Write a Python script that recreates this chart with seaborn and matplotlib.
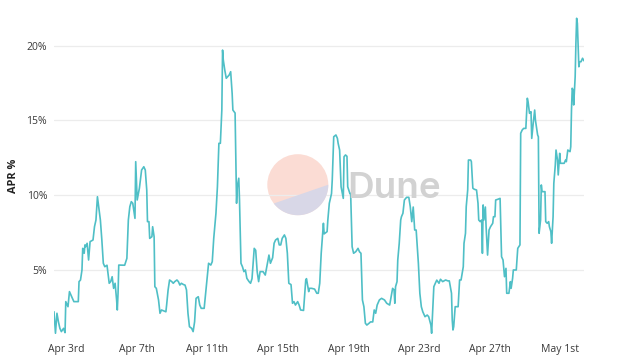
import numpy as np
import pandas as pd
import matplotlib
matplotlib.use("Agg")
import matplotlib.pyplot as plt
import matplotlib.patches as mpatches
from matplotlib.transforms import IdentityTransform
import seaborn as sns

# ---- data (hours offset from 2023-04-03 00:00, APR %) ----
hours = [
    -16, -14, -12, -10, -8, -6, -3, -1, 0, 3, 5, 7, 9, 11, 17, 18, 20, 22, 23, 25,
    26, 27, 29, 31, 33, 37, 39, 41, 43, 45, 47, 49, 51, 53, 56, 59, 61, 63, 65, 67,
    69, 70, 71, 72, 80, 83, 85, 87, 89, 91, 94, 95, 97, 100, 103, 106, 108, 110, 111, 113,
    114, 117, 118, 120, 121, 123, 126, 128, 130, 136, 137, 139, 141, 144, 146, 148, 151, 153, 155, 157,
    160, 162, 164, 166, 168, 171, 173, 175, 177, 180, 182, 184, 188, 190, 192, 194, 197, 199, 201, 204,
    206, 208, 210, 212, 213, 214, 216, 218, 222, 224, 226, 227, 230, 232, 233, 235, 236, 238, 240, 242,
    244, 246, 249, 251, 253, 256, 258, 260, 262, 264, 268, 271, 274, 276, 278, 281, 283, 285, 288, 290,
    292, 294, 297, 299, 301, 303, 306, 308, 310, 312, 315, 317, 319, 323, 326, 327, 330, 331, 334, 338,
    341, 343, 345, 347, 350, 351, 355, 356, 358, 360, 361, 362, 363, 364, 367, 369, 370, 372, 374, 377,
    378, 380, 382, 383, 386, 387, 389, 391, 394, 397, 399, 401, 403, 405, 407, 409, 412, 414, 417, 419,
    421, 423, 426, 429, 433, 436, 440, 442, 444, 446, 447, 448, 450, 451, 453, 455, 456, 458, 460, 463,
    466, 468, 470, 472, 474, 476, 479, 481, 483, 485, 488, 491, 493, 496, 497, 500, 502, 504, 507, 509,
    512, 516, 519, 521, 524, 525, 526, 527, 529, 533, 535, 537, 540, 541, 543, 544, 546, 547, 550, 551,
    553, 555, 558, 560, 561, 563, 565, 566, 567, 568, 570, 571, 573, 575, 577, 580, 581, 583, 584, 587,
    590, 592, 594, 596, 598, 599, 602, 604, 605, 607, 608, 612, 614, 617, 618, 620, 622, 625, 627, 628,
    630, 632, 633, 635, 637, 638, 641, 642, 643, 645, 646, 647, 649, 651, 652, 654, 656, 657, 659, 660,
    662, 663, 665, 666, 668, 669, 671, 672, 675, 677, 679, 680, 682, 685, 686, 687, 688, 689, 690, 692,
    693, 694, 695, 697, 698, 700, 702, 704,
]
apr = [
    2.18, 0.74, 2.08, 1.51, 1.07, 0.85, 1.07, 0.78, 2.86, 2.52, 3.53, 3.30, 3.08, 2.86, 2.86, 4.20, 4.31, 4.98, 6.43, 6.10,
    6.66, 6.54, 6.77, 5.65, 6.88, 6.99, 7.88, 8.33, 9.89, 9.11, 8.33, 6.99, 5.43, 5.20, 5.30, 4.09, 4.20, 4.53, 3.75, 4.09,
    3.00, 2.30, 3.42, 5.31, 5.30, 5.76, 8.33, 9.22, 9.56, 9.45, 8.44, 12.24, 9.67, 10.46, 11.68, 11.90, 11.68, 10.34, 8.22, 8.22,
    7.10, 7.21, 7.88, 7.21, 3.86, 3.75, 2.97, 2.08, 2.30, 2.18, 2.63, 3.64, 4.31, 4.20, 4.09, 4.20, 4.31, 4.20, 3.97, 4.09,
    4.00, 3.97, 3.64, 2.08, 1.18, 1.07, 0.85, 1.51, 3.08, 3.19, 2.63, 2.41, 2.41, 3.42, 4.42, 5.43, 5.31, 5.54, 7.10, 8.78,
    10.56, 13.47, 13.47, 15.70, 19.72, 19.05, 18.38, 17.83, 18.05, 18.27, 16.82, 15.70, 15.50, 9.45, 10.56, 11.13, 9.67, 5.43, 5.20, 4.87,
    4.98, 4.42, 4.20, 4.09, 4.40, 6.43, 6.30, 4.87, 4.20, 4.87, 4.87, 4.64, 5.43, 5.98, 5.43, 5.80, 6.77, 6.99, 7.10, 6.66,
    6.66, 7.10, 7.33, 7.10, 6.10, 4.09, 4.00, 2.75, 2.86, 2.63, 2.86, 2.63, 2.30, 2.27, 4.31, 4.40, 3.53, 3.75, 3.75, 3.70,
    3.42, 3.42, 4.09, 6.10, 8.11, 7.40, 7.55, 8.33, 9.45, 9.89, 10.10, 11.01, 12.57, 13.91, 14.03, 13.80, 13.47, 13.02, 10.56, 9.78,
    12.57, 12.69, 12.60, 10.56, 10.10, 10.10, 6.54, 6.10, 6.21, 6.43, 6.20, 6.10, 2.97, 2.52, 1.41, 1.29, 1.41, 1.50, 1.50, 2.30,
    2.08, 2.63, 2.97, 3.08, 2.97, 2.75, 2.63, 3.19, 3.75, 3.64, 2.75, 3.86, 4.20, 5.65, 6.77, 8.33, 8.55, 8.78, 9.67, 9.85,
    9.85, 9.22, 8.22, 9.20, 7.66, 7.66, 5.43, 3.42, 2.52, 2.18, 1.85, 1.96, 1.85, 1.29, 0.74, 3.86, 4.09, 4.30, 4.09, 4.36,
    4.20, 4.31, 4.25, 4.25, 3.42, 1.63, 0.96, 1.18, 2.52, 2.52, 4.31, 4.31, 5.20, 6.77, 7.44, 9.22, 10.34, 12.35, 12.35, 12.24,
    10.46, 10.39, 10.34, 9.45, 8.33, 8.22, 8.33, 6.10, 9.34, 8.33, 9.20, 7.88, 5.98, 7.66, 7.88, 8.11, 8.55, 8.55, 9.67, 9.72,
    9.78, 5.87, 5.65, 4.53, 5.09, 3.42, 3.42, 4.20, 3.75, 4.42, 4.98, 4.98, 6.43, 6.66, 14.14, 14.36, 14.47, 14.47, 16.49, 16.26,
    15.48, 15.59, 13.80, 14.81, 15.70, 15.03, 14.03, 13.91, 7.44, 8.33, 10.68, 10.23, 10.23, 10.23, 8.22, 8.11, 8.22, 7.88, 7.55, 6.77,
    8.55, 10.79, 12.02, 13.02, 12.35, 11.35, 12.80, 12.13, 12.13, 12.13, 12.35, 12.24, 13.02, 12.91, 13.24, 15.70, 17.16, 17.04, 16.04, 17.93,
    20.17, 21.85, 21.51, 18.60, 18.94, 18.94, 19.17, 19.00,
]
tick_dates = ["2023-04-03", "2023-04-07", "2023-04-11", "2023-04-15",
              "2023-04-19", "2023-04-23", "2023-04-27", "2023-05-01"]
tick_labels = ["Apr 3rd", "Apr 7th", "Apr 11th", "Apr 15th",
               "Apr 19th", "Apr 23rd", "Apr 27th", "May 1st"]
y_ticks = [5, 10, 15, 20]
y_tick_labels = ["5%", "10%", "15%", "20%"]

base = pd.Timestamp("2023-04-03 00:00")
df = pd.DataFrame({
    "time": base + pd.to_timedelta(hours, unit="h"),
    "apr": apr,
})

sns.set_theme(style="white")
plt.rcParams["font.family"] = ["Open Sans", "DejaVu Sans"]

fig = plt.figure(figsize=(6.24, 3.63), dpi=100)
ax = fig.add_axes([54 / 624, 1 - 336 / 363, 530 / 624, 321 / 363])
ax.patch.set_alpha(0)

# watermark (pixel coordinates)
cx, cy, r = 297.8, 363 - 184.7, 30.5
circ = mpatches.Circle((cx, cy), r, transform=IdentityTransform(),
                       facecolor="#fbdcd4", edgecolor="none", zorder=0.5)
ax.add_artist(circ)
ang = np.linspace(np.deg2rad(218), np.deg2rad(360), 60)
seg = np.column_stack([cx + r * np.cos(ang), cy + r * np.sin(ang)])
poly = mpatches.Polygon(seg, closed=True, transform=IdentityTransform(),
                        facecolor="#d8d7e7", edgecolor="none", zorder=0.6)
ax.add_artist(poly)
fig.text(347 / 624, 1 - 198.5 / 363, "Dune", fontsize=26.5, fontweight="semibold",
         color="#d2d2d2", family=["Inter", "DejaVu Sans"], ha="left", va="baseline",
         zorder=0.7)

sns.lineplot(data=df, x="time", y="apr", ax=ax, color="#4fbfc6", linewidth=1.2,
             zorder=3)

ax.set_xlim(df["time"].min(), df["time"].max())
ax.set_ylim(0.556, 22.07)
ax.set_yticks(y_ticks)
ax.set_yticklabels(y_tick_labels)
ax.set_xticks(pd.to_datetime(tick_dates))
ax.set_xticklabels(tick_labels)
ax.grid(axis="y", color="#ececec", linewidth=0.9, zorder=0)
ax.set_axisbelow(True)
for s in ax.spines.values():
    s.set_visible(False)
ax.tick_params(axis="both", length=0, labelsize=7.5, labelcolor="#3a3a3a")
ax.tick_params(axis="y", pad=5)
ax.tick_params(axis="x", pad=6)
ax.set_xlabel("")
ax.set_ylabel("APR %", fontsize=7.8, fontweight="bold", color="#222222", labelpad=5)

fig.savefig("out.png", dpi=100)
